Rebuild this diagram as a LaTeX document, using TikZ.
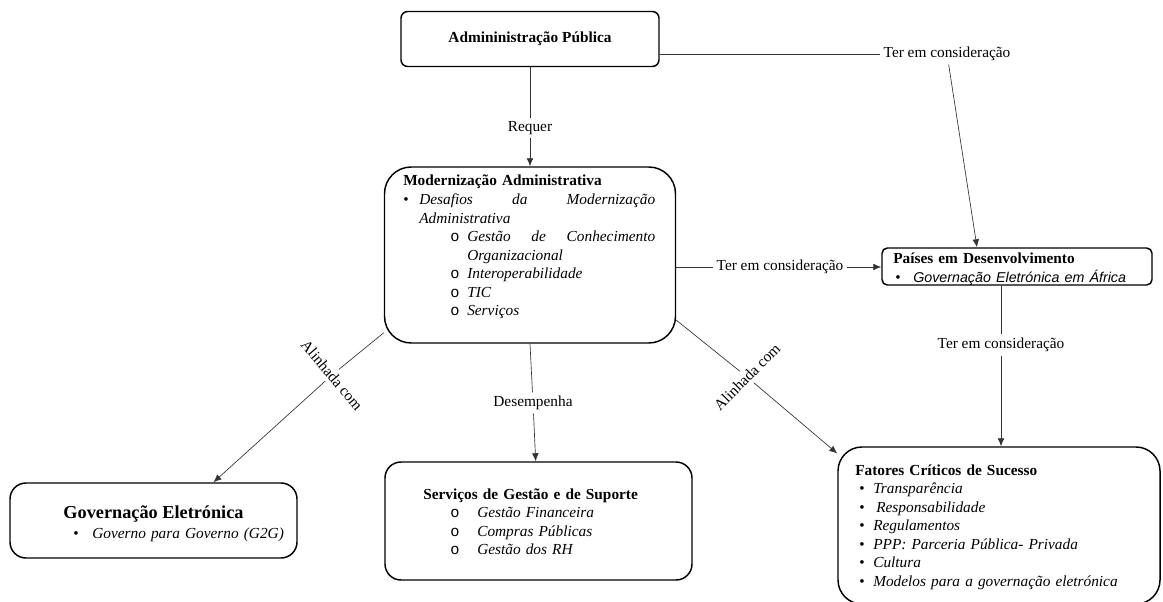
\documentclass[tikz,border=0pt]{standalone}
\usepackage{fontspec}
\setmainfont{Liberation Serif}
\newfontfamily\sansit{Liberation Sans}
\newfontfamily\monof{Liberation Mono}
\usetikzlibrary{arrows.meta}

% list lines: marker offset, gap to text, marker, text
\newcommand{\bitem}[4]{\hspace*{#1}\makebox[#2][l]{#3}#4}
\newcommand{\omark}{{\monof o}}

\tikzset{
  box/.style={draw, line width=1.1pt, rounded corners=#1, inner sep=0pt},
  box/.default=12pt,
  txt/.style={inner sep=0pt, align=left, anchor=base west, font=\fontsize{11.5}{13.9}\selectfont},
  lbl/.style={inner sep=2.5pt, font=\fontsize{11.5}{13.9}\selectfont},
  link/.style={line width=0.5pt, black!80},
  arr/.style={link, -{Latex[length=6pt,width=5pt]}},
}

\begin{document}
\begin{tikzpicture}[x=0.75pt, y=-0.75pt]
\useasboundingbox (0,0) rectangle (1163,602);

% boxes
\node[box=5pt, minimum width=193.5pt, minimum height=41.25pt, font=\fontsize{11.5}{13.9}\selectfont\bfseries] (adm) at (530,39) {Admininistração Pública};
\node[box=20pt, minimum width=218.25pt, minimum height=132pt] (mod) at (530,255) {};
\node[box=4pt, minimum width=202.5pt, minimum height=27.75pt] (paises) at (1017,266.5) {};
\node[box=18pt, minimum width=241.5pt, minimum height=117.75pt] (fatores) at (999,525.5) {};
\node[box=12pt, minimum width=230.25pt, minimum height=88.5pt] (serv) at (538.5,521) {};
\node[box=12pt, minimum width=215.25pt, minimum height=56.25pt] (gov) at (153.5,520.5) {};

% box texts
\node[txt, text width=189pt] (modtxt) at (403,186) {%
  \textbf{Modernização Administrativa}\\
  \bitem{0pt}{12pt}{•}{\hbox to 177pt{\itshape Desafios\hfill da\hfill Modernização}}\\
  \hspace*{12pt}\textit{Administrativa}\\
  \bitem{35.25pt}{12.75pt}{\omark}{\hbox to 141pt{\itshape Gestão\hfill de\hfill Conhecimento}}\\
  \hspace*{48pt}\textit{Organizacional}\\
  \bitem{35.25pt}{12.75pt}{\omark}{\textit{Interoperabilidade}}\\
  \bitem{35.25pt}{12.75pt}{\omark}{\textit{TIC}}\\
  \bitem{35.25pt}{12.75pt}{\omark}{\textit{Serviços}}};
\node[txt, text width=195pt, font=\fontsize{11.5}{14.25}\selectfont] (paisestxt) at (893,263) {%
  \textbf{Países em Desenvolvimento}\\
  \bitem{1.5pt}{13.5pt}{•}{{\sansit\itshape\fontsize{10.7}{13}\selectfont Governação Eletrónica em África}}};
\node[txt, text width=225pt] (fatorestxt) at (855,475) {%
  \textbf{Fatores Críticos de Sucesso}\\
  \bitem{3pt}{10.5pt}{•}{\textit{Transparência}}\\
  \bitem{3pt}{12.75pt}{•}{\textit{Responsabilidade}}\\
  \bitem{3pt}{10.5pt}{•}{\textit{Regulamentos}}\\
  \bitem{3pt}{10.5pt}{•}{\textit{PPP: Parceria Pública- Privada}}\\
  \bitem{3pt}{10.5pt}{•}{\textit{Cultura}}\\
  \bitem{3pt}{10.5pt}{•}{\textit{Modelos para a governação eletrónica}}};
\node[txt, text width=200pt] (servtxt) at (423,499) {%
  \textbf{Serviços de Gestão e de Suporte}\\
  \bitem{20.25pt}{20.25pt}{\omark}{\textit{Gestão Financeira}}\\
  \bitem{20.25pt}{20.25pt}{\omark}{\textit{Compras Públicas}}\\
  \bitem{20.25pt}{20.25pt}{\omark}{\textit{Gestão dos RH}}};
\node[inner sep=0pt, anchor=base, font=\fontsize{13.7}{16}\selectfont\bfseries] (govtitle) at (153.5,518) {Governação Eletrónica};
\node[txt, text width=170pt] (govtxt) at (73,538) {%
  \bitem{0pt}{14.25pt}{•}{\textit{Governo para Governo (G2G)}}};

% labels
\node[lbl] (req) at (530,128) {Requer};
\node[lbl] (tc1) at (947,54) {Ter em consideração};
\node[lbl] (tc2) at (780,267) {Ter em consideração};
\node[lbl] (tc3) at (1001,345) {Ter em consideração};
\node[lbl] (des) at (533,403) {Desempenha};
\node[lbl, rotate=-50] (al1) at (332,375) {Alinhada com};
\node[lbl, rotate=45] (al2) at (747,377) {Alinhada com};

% connectors
\draw[link] (adm) -- (req);
\draw[arr] (req) -- (mod);
\draw[link] (adm.east |- tc1) -- (tc1);
\draw[arr] (tc1) -- ([xshift=-30pt]paises.north);
\draw[link] (mod.east |- tc2) -- (tc2);
\draw[arr] (tc2) -- (paises.west |- tc2);
\draw[link] (paises.south -| tc3) -- (tc3);
\draw[arr] (tc3) -- (fatores.north -| tc3);
\draw[link] (mod.south) -- (des);
\draw[arr] (des) -- (serv);
\draw[link] (mod.208) -- (al1);
\draw[arr] (al1) -- ([xshift=45pt]gov.north);
\draw[link] (mod.336) -- (al2);
\draw[arr] (al2) -- (fatores.156);
\end{tikzpicture}
\end{document}
